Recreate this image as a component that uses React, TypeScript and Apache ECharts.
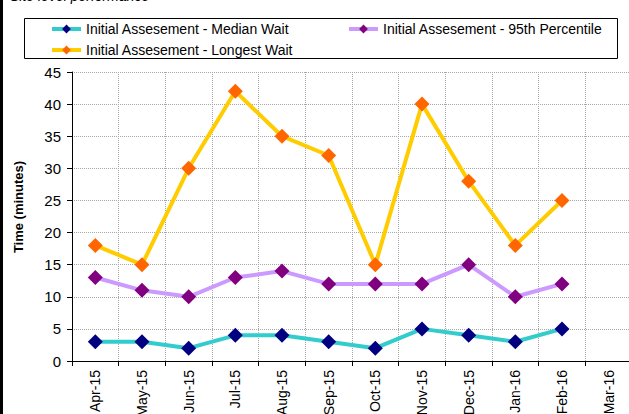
import React, { useEffect, useRef } from "react";
import * as echarts from "echarts";

const categories = ["Apr-15", "May-15", "Jun-15", "Jul-15", "Aug-15", "Sep-15", "Oct-15", "Nov-15", "Dec-15", "Jan-16", "Feb-16", "Mar-16"];
const medianWait = [3, 3, 2, 4, 4, 3, 2, 5, 4, 3, 5, null];
const percentile95 = [13, 11, 10, 13, 14, 12, 12, 12, 15, 10, 12, null];
const longestWait = [18, 15, 30, 42, 35, 32, 15, 40, 28, 18, 25, null];

const NAME_MED = "Initial Assesement - Median Wait";
const NAME_95 = "Initial Assesement - 95th Percentile";
const NAME_LONG = "Initial Assesement - Longest Wait";

const FONT = "Liberation Sans, Arial, sans-serif";

export default function App() {
  const ref = useRef<HTMLDivElement>(null);
  useEffect(() => {
    if (!ref.current) return;
    const chart = echarts.init(ref.current, null, { renderer: "svg" });
    const mkSeries = (name: string, data: (number | null)[], line: string, marker: string) => ({
      name,
      type: "line",
      data,
      symbol: "diamond",
      symbolSize: 15,
      lineStyle: { color: line, width: 4 },
      itemStyle: { color: marker },
      emphasis: { disabled: true },
    });
    const legendBase = {
      itemWidth: 29,
      itemHeight: 11,
      textStyle: { fontFamily: FONT, fontSize: 14, color: "#000" },
      lineStyle: { width: 4 },
      padding: 0,
    };
    const grid = { type: [1, 1], color: "#a8a8a8", width: 1 };
    chart.setOption({
      animation: false,
      backgroundColor: "#fff",
      textStyle: { fontFamily: FONT },
      graphic: [
        { type: "rect", shape: { x: 0, y: 0, width: 3, height: 414 }, style: { fill: "#000" } },
        { type: "rect", shape: { x: 24.5, y: 18.5, width: 593, height: 40 }, style: { fill: "none", stroke: "#000", lineWidth: 1 } },
        { type: "text", x: 10, y: 3, style: { text: "Site level performance", font: "italic 14px " + FONT, fill: "#000", verticalAlign: "bottom" } },
        {
          type: "text", x: 18, y: 207, rotation: Math.PI / 2,
          style: { text: "Time (minutes)", font: "bold 13px " + FONT, fill: "#000", align: "center", verticalAlign: "middle" },
        },
      ],
      legend: [
        { ...legendBase, data: [NAME_MED], left: 50, top: 22 },
        { ...legendBase, data: [NAME_95], left: 347, top: 22 },
        { ...legendBase, data: [NAME_LONG], left: 50, top: 43 },
      ],
      grid: { left: 72, width: 560, top: 72, bottom: 53, containLabel: false, outerBoundsMode: "none" },
      xAxis: {
        type: "category",
        data: categories,
        boundaryGap: true,
        axisLine: { lineStyle: { color: "#000", width: 1 } },
        axisTick: { show: true, alignWithLabel: false, length: 5, lineStyle: { color: "#000" } },
        axisLabel: { rotate: 90, fontSize: 14, color: "#000", fontFamily: FONT, margin: 9 },
        splitLine: { show: true, lineStyle: grid },
      },
      yAxis: {
        type: "value",
        min: 0,
        max: 45,
        interval: 5,
        axisLine: { show: true, lineStyle: { color: "#000", width: 1 } },
        axisTick: { show: true, length: 5, lineStyle: { color: "#000" } },
        axisLabel: { fontSize: 15, color: "#000", fontFamily: FONT, margin: 11 },
        splitLine: { show: true, lineStyle: grid },
      },
      series: [
        mkSeries(NAME_MED, medianWait, "#33CCCC", "#000080"),
        mkSeries(NAME_95, percentile95, "#CC99FF", "#800080"),
        mkSeries(NAME_LONG, longestWait, "#FFCC00", "#FF6600"),
      ],
    });
    return () => chart.dispose();
  }, []);
  return <div ref={ref} style={{ width: 629, height: 414, position: "absolute", left: 0, top: 0 }} />;
}
